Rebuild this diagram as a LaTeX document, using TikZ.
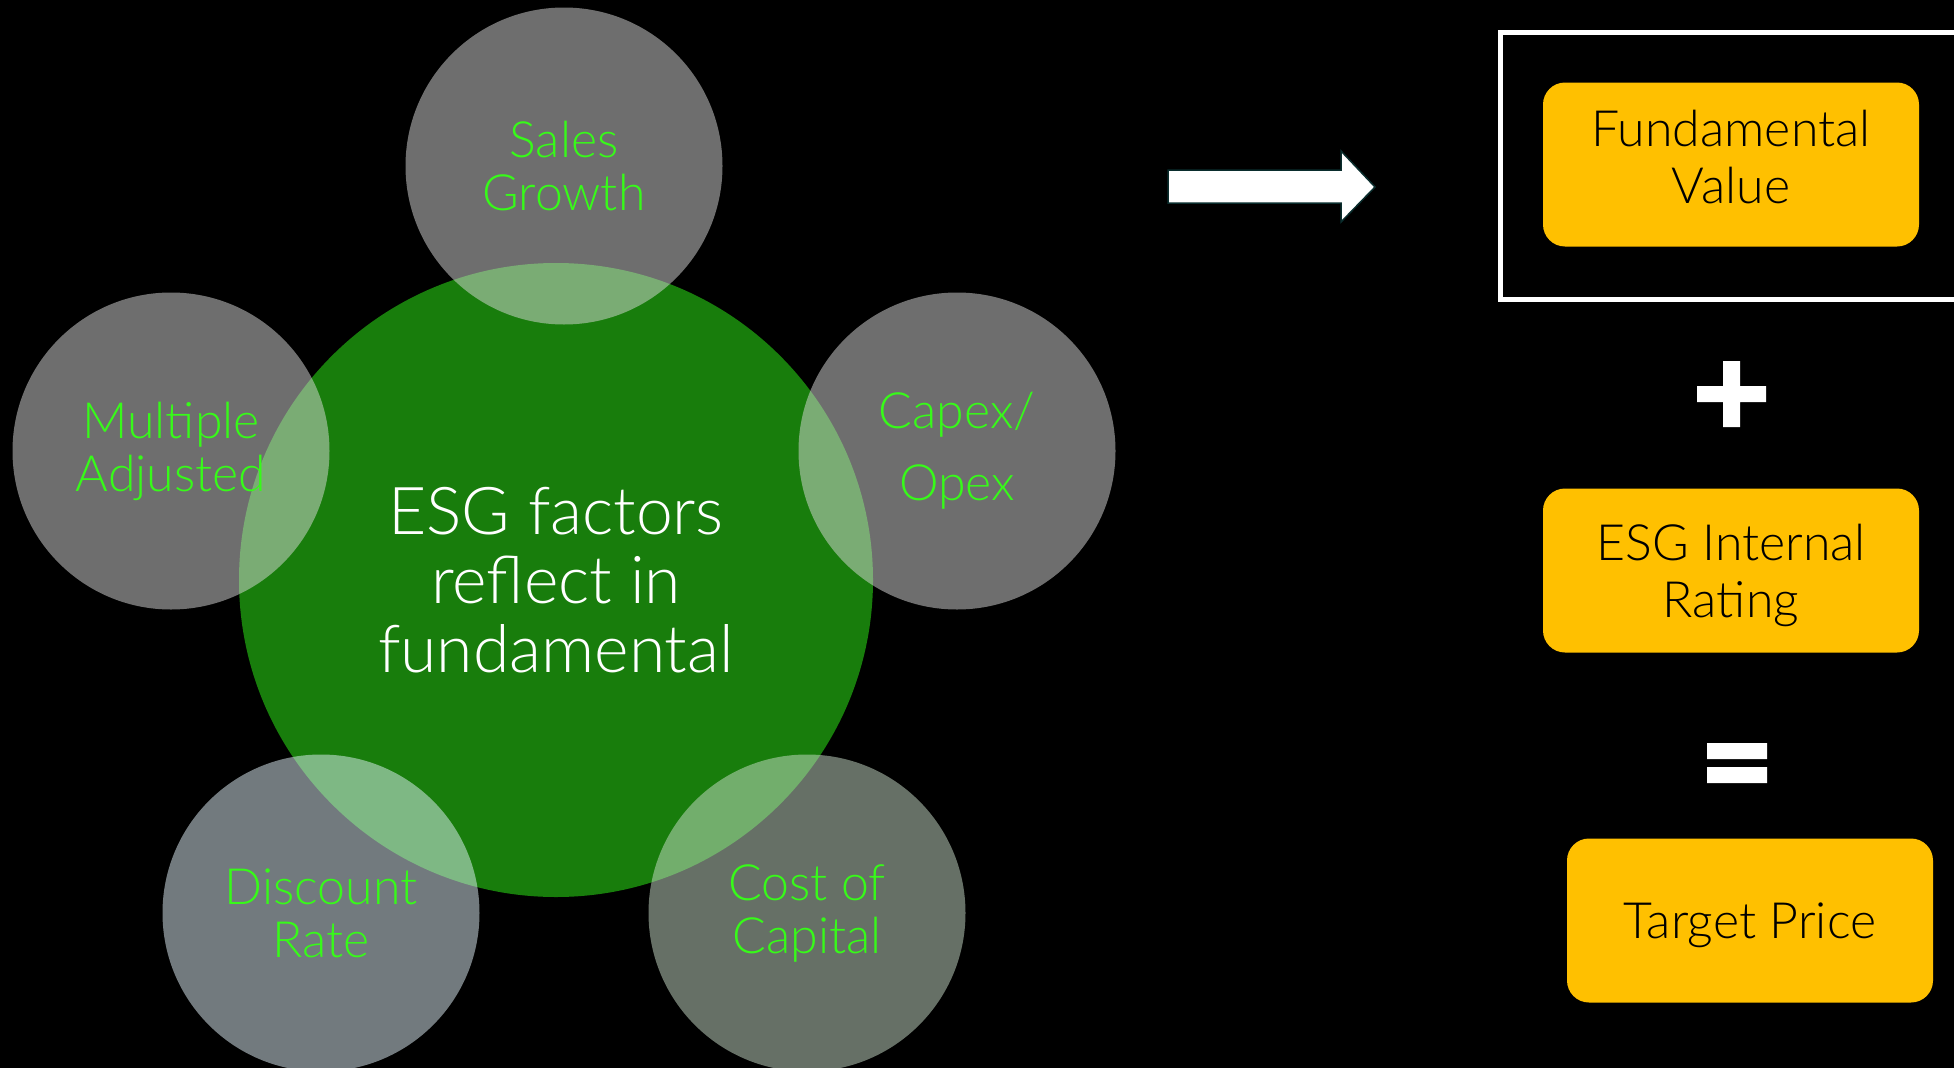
\documentclass[tikz,border=0pt]{standalone}
\usepackage{fontspec}
\IfFontExistsTF{Lato Light}{\setmainfont{Lato Light}}{\setmainfont{Lato}}
\definecolor{esggreen}{RGB}{24,125,12}
\definecolor{labelgreen}{RGB}{55,250,25}
\definecolor{boxamber}{RGB}{255,192,0}
\definecolor{greyfill}{RGB}{220,220,220}
\definecolor{bluefill}{RGB}{228,244,252}
\definecolor{sagefill}{RGB}{204,224,204}
\definecolor{arrowedge}{RGB}{10,45,45}
\begin{document}
\begin{tikzpicture}[x=1pt,y=-1pt,line join=miter,
  factor/.style={circle,minimum size=317pt,inner sep=0pt,fill opacity=.5,text opacity=1,text=labelgreen,align=center,font=\fontsize{50}{53}\selectfont},
  valuebox/.style={rounded corners=22pt,fill=boxamber,minimum width=376pt,minimum height=164pt,align=center,text depth=0pt,font=\fontsize{50}{57}\selectfont}]
\useasboundingbox (0,0) rectangle (1954,1068);
\fill[black] (0,0) rectangle (1954,1068);
\clip (0,0) rectangle (1954,1068);
% factors round the green circle
\node[circle,fill=esggreen,minimum size=634pt,text=white,align=center,font=\fontsize{66}{69}\selectfont] (esg) at (556,580) {ESG factors\\reflect in\\fundamental};
\node[factor,fill=greyfill] (sales) at (564,166) {Sales\\Growth};
\node[factor,fill=greyfill] (multiple) at (171,451) {Multiple\\Adjusted};
\node[factor,fill=greyfill,font=\fontsize{50}{72}\selectfont] (capex) at (957,451) {Capex/\\Opex};
\node[factor,fill=bluefill] (discount) at (321,913) {Discount\\Rate};
\node[factor,fill=sagefill] (cost) at (807,913) {Cost of\\Capital};
% arrow
\draw[fill=white,draw=arrowedge,line width=1.5pt] (1168,170) -- (1341,170) -- (1341,151) -- (1375,187) -- (1341,222) -- (1341,203) -- (1168,203) -- cycle;
% value boxes
\draw[white,line width=5pt] (1960,32) -- (1500,32) -- (1500,299) -- (1960,299);
\node[valuebox,text depth=16pt] (fundamental) at (1731,164.5) {Fundamental\\Value};
\fill[white] (1723,361) rectangle (1740,427) (1697,386) rectangle (1766,402);
\node[valuebox] (rating) at (1731,570.5) {ESG Internal\\Rating};
\fill[white] (1707,743) rectangle (1767,759) (1707,767) rectangle (1767,783);
\node[valuebox,minimum width=366pt] (target) at (1750,920.5) {Target Price};
\end{tikzpicture}
\end{document}
